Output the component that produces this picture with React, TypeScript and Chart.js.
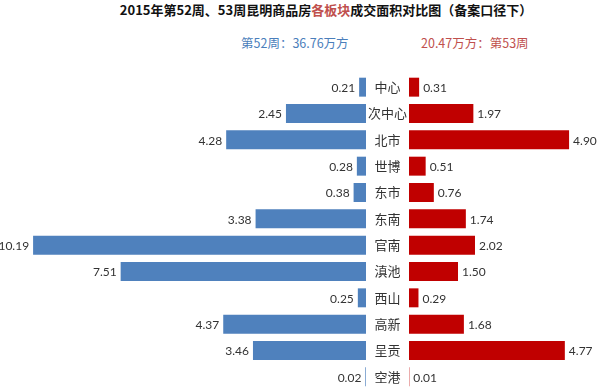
import React, { useEffect, useRef } from "react";
import { Chart, registerables } from "chart.js";

Chart.register(...registerables);

const categories = ["中心", "次中心", "北市", "世博", "东市", "东南", "官南", "滇池", "西山", "高新", "呈贡", "空港"];
const week52 = [0.21, 2.45, 4.28, 0.28, 0.38, 3.38, 10.19, 7.51, 0.25, 4.37, 3.46, 0.02];
const week53 = [0.31, 1.97, 4.9, 0.51, 0.76, 1.74, 2.02, 1.5, 0.29, 1.68, 4.77, 0.01];
const week52Label = "第52周：36.76万方";
const week53Label = "20.47万方：第53周";
const titleParts = ["2015年第52周、53周昆明商品房", "各板块", "成交面积对比图（备案口径下）"];

const BLUE = "#4F81BD";
const RED = "#C00000";
const LABEL_FONT = "12px Lato, 'Noto Sans', sans-serif";
const CAT_FONT = "13px 'Noto Sans CJK SC', sans-serif";

function makeValuePlugin(side: "left" | "right", values: number[]) {
  return {
    id: "valueLabels_" + side,
    afterDatasetsDraw(chart: any) {
      const ctx = chart.ctx;
      const meta = chart.getDatasetMeta(0);
      ctx.save();
      ctx.font = LABEL_FONT;
      ctx.fillStyle = "#333";
      ctx.textBaseline = "middle";
      meta.data.forEach((el: any, i: number) => {
        const txt = values[i].toFixed(2);
        if (side === "left") {
          ctx.textAlign = "right";
          ctx.fillText(txt, el.x - 4, el.y + 1);
        } else {
          ctx.textAlign = "left";
          ctx.fillText(txt, el.x + 4, el.y + 1);
        }
      });
      ctx.restore();
    },
  };
}

const categoryPlugin = {
  id: "categoryLabels",
  afterDraw(chart: any) {
    const ctx = chart.ctx;
    const yScale = chart.scales.y;
    const x = chart.chartArea.left - 21.5;
    ctx.save();
    ctx.font = CAT_FONT;
    ctx.fillStyle = "#333";
    ctx.textAlign = "center";
    ctx.textBaseline = "middle";
    categories.forEach((c, i) => {
      ctx.fillText(c, x, yScale.getPixelForValue(i));
    });
    ctx.restore();
  },
};

function SideChart(props: { side: "left" | "right"; width: number; left: number }) {
  const ref = useRef<HTMLCanvasElement | null>(null);
  const { side, width, left } = props;
  useEffect(() => {
    if (!ref.current) return;
    const values = side === "left" ? week52 : week53;
    const plotWidth = side === "left" ? width : width - 43;
    const pxPerUnit = 32.67;
    const plugins: any[] = [makeValuePlugin(side, values)];
    if (side === "right") plugins.push(categoryPlugin);
    const chart = new Chart(ref.current, {
      type: "bar",
      data: {
        labels: categories,
        datasets: [
          {
            data: values,
            backgroundColor: side === "left" ? BLUE : RED,
            borderWidth: 0,
            barPercentage: 0.72,
            categoryPercentage: 1,
          },
        ],
      },
      options: {
        indexAxis: "y",
        responsive: false,
        animation: false,
        devicePixelRatio: 1,
        layout: { padding: { left: side === "right" ? 43 : 0, right: 0, top: 0, bottom: 0 } },
        plugins: { legend: { display: false }, tooltip: { enabled: false }, title: { display: false } },
        scales: {
          x: { display: false, min: 0, max: plotWidth / pxPerUnit, reverse: side === "left" },
          y: { display: false },
        },
      },
      plugins,
    } as any);
    return () => chart.destroy();
  }, [side, width]);
  return (
    <canvas
      ref={ref}
      width={width}
      height={316}
      style={{ position: "absolute", left, top: 74, width, height: 316 }}
    />
  );
}

export default function App() {
  return (
    <div
      style={{
        position: "absolute",
        left: 0,
        top: 0,
        width: 600,
        height: 390,
        background: "#fff",
        overflow: "hidden",
      }}
    >
      <div
        style={{
          position: "absolute",
          left: 0,
          width: 652,
          top: 1,
          textAlign: "center",
          font: "bold 13px 'Noto Sans CJK SC', sans-serif",
          color: "#111",
          whiteSpace: "nowrap",
          lineHeight: "18px",
        }}
      >
        {titleParts[0]}
        <span style={{ color: "#C0504D" }}>{titleParts[1]}</span>
        {titleParts[2]}
      </div>
      <div
        style={{
          position: "absolute",
          left: 241,
          top: 34,
          font: "12.5px 'Noto Sans CJK SC', sans-serif",
          color: "#4A7EBB",
          whiteSpace: "nowrap",
          lineHeight: "18px",
        }}
      >
        {week52Label}
      </div>
      <div
        style={{
          position: "absolute",
          left: 421,
          top: 34,
          font: "12.5px 'Noto Sans CJK SC', sans-serif",
          color: "#C0504D",
          whiteSpace: "nowrap",
          lineHeight: "18px",
        }}
      >
        {week53Label}
      </div>
      <SideChart side="left" width={366} left={0} />
      <SideChart side="right" width={234} left={366} />
    </div>
  );
}
